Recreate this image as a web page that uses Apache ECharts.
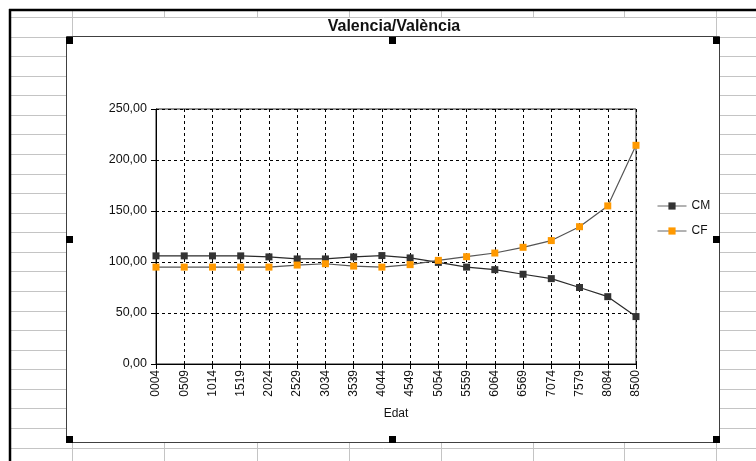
<!DOCTYPE html>
<html>
<head>
<meta charset="utf-8">
<script src="https://cdn.jsdelivr.net/npm/echarts@6/dist/echarts.min.js"></script>
<style>
  html, body { margin: 0; padding: 0; background: #fff; }
  #chart { width: 756px; height: 461px; }
</style>
</head>
<body>
<div id="chart"></div>
<script>
// Age groups (Edat) and the two indices
var categories = ['0004', '0509', '1014', '1519', '2024', '2529', '3034', '3539', '4044',
                  '4549', '5054', '5559', '6064', '6569', '7074', '7579', '8084', '8500'];
var cmValues = [106, 106, 106, 106, 105, 103, 103, 105, 106.3,
                104, 99.6, 95, 92.5, 88, 83.7, 75, 66, 46.5];
var cfValues = [95, 95, 95, 95, 95, 97, 98.3, 96, 95,
                97.4, 101.6, 105.2, 108.8, 114.4, 121, 134.6, 155, 214.4];
var seriesNames = ['CM', 'CF'];
var chartTitle = 'Valencia/Val\u00e8ncia';
var xAxisName = 'Edat';

var FONT = 'Arial, "Liberation Sans", sans-serif';

// Worksheet backdrop: cell grid lines, frame lines, chart box and its handles
var sheet = [];
var gridGray = '#c4c4c4';
function hLine(x1, x2, y) {
  sheet.push({ type: 'line', z: -20, silent: true,
    shape: { x1: x1, y1: y, x2: x2, y2: y }, style: { stroke: gridGray, lineWidth: 1 } });
}
function vLine(x, y1, y2) {
  sheet.push({ type: 'line', z: -20, silent: true,
    shape: { x1: x, y1: y1, x2: x, y2: y2 }, style: { stroke: gridGray, lineWidth: 1 } });
}
var rowStep = 19.57;
for (var k = 0; k <= 23; k++) {
  var y = Math.round(17 + rowStep * k) + 0.5;
  if (k === 0 || k === 22) hLine(11, 756, y);
  else { hLine(11, 66, y); hLine(720, 756, y); }
}
var cols = [72, 164, 257, 349, 441, 533, 624, 716];
cols.forEach(function (x) {
  var xx = x + 0.5;
  vLine(xx, 11, 17);
  if (x === 72 || x === 716) vLine(xx, 17, 37);
  vLine(xx, 443, 461);
});
// heavy frame lines of the sheet
sheet.push({ type: 'line', z: -15, silent: true,
  shape: { x1: 9, y1: 10, x2: 756, y2: 10 }, style: { stroke: '#000', lineWidth: 2.5 } });
sheet.push({ type: 'line', z: -15, silent: true,
  shape: { x1: 10, y1: 9, x2: 10, y2: 461 }, style: { stroke: '#000', lineWidth: 2.5 } });
// chart box
sheet.push({ type: 'rect', z: -10, silent: true,
  shape: { x: 66.5, y: 36.5, width: 653, height: 406 },
  style: { fill: '#fff', stroke: '#404040', lineWidth: 1 } });
// selection handles
var handles = [[66, 37], [389, 37], [713, 37], [66, 236], [713, 236], [66, 436], [389, 436], [713, 436]];
handles.forEach(function (h) {
  sheet.push({ type: 'rect', z: 50, silent: true,
    shape: { x: h[0], y: h[1], width: 7, height: 7 }, style: { fill: '#000' } });
});
// title
sheet.push({ type: 'text', z: 50, silent: true, x: 394, y: 27,
  style: { text: chartTitle, font: 'bold 16px ' + FONT, fill: '#111',
           textAlign: 'center', textVerticalAlign: 'middle' } });

var chart = echarts.init(document.getElementById('chart'), null, { renderer: 'canvas' });
chart.setOption({
  animation: false,
  backgroundColor: '#fff',
  graphic: sheet,
  grid: {
    left: 156, right: 120, top: 109, bottom: 97,
    show: true, borderColor: '#222', borderWidth: 1, backgroundColor: 'transparent'
  },
  legend: {
    orient: 'vertical', left: 657, top: 200, padding: 0,
    itemWidth: 29, itemHeight: 9, itemGap: 13,
    textStyle: { fontFamily: FONT, fontSize: 12, color: '#111' },
    lineStyle: { color: '#666', width: 1 },
    data: seriesNames
  },
  xAxis: {
    type: 'category',
    data: categories,
    boundaryGap: false,
    name: xAxisName,
    nameLocation: 'middle',
    nameGap: 44,
    nameTextStyle: { fontFamily: FONT, fontSize: 12, color: '#111' },
    axisLine: { lineStyle: { color: '#000', width: 1 } },
    axisTick: { show: true, length: 5, lineStyle: { color: '#000' } },
    axisLabel: { rotate: 90, margin: 6, fontFamily: FONT, fontSize: 12, color: '#111', interval: 0 },
    splitLine: { show: true, lineStyle: { color: '#000', type: [3, 3], width: 1 } }
  },
  yAxis: {
    type: 'value',
    min: 0, max: 250, interval: 50,
    axisLine: { show: true, lineStyle: { color: '#000', width: 1 } },
    axisTick: { show: true, length: 5, lineStyle: { color: '#000' } },
    axisLabel: {
      margin: 9, fontFamily: FONT, fontSize: 12.5, color: '#111',
      formatter: function (v) { return v.toFixed(2).replace('.', ','); }
    },
    splitLine: { show: true, lineStyle: { color: '#000', type: [3, 3], width: 1 } }
  },
  series: [
    {
      name: seriesNames[0], type: 'line', data: cmValues,
      symbol: 'rect', symbolSize: 7,
      itemStyle: { color: '#333333' },
      lineStyle: { color: '#2a2a2a', width: 1.2 },
      z: 3
    },
    {
      name: seriesNames[1], type: 'line', data: cfValues,
      symbol: 'rect', symbolSize: 7,
      itemStyle: { color: '#FF9900' },
      lineStyle: { color: '#555555', width: 1.2 },
      z: 4
    }
  ]
});
</script>
</body>
</html>
